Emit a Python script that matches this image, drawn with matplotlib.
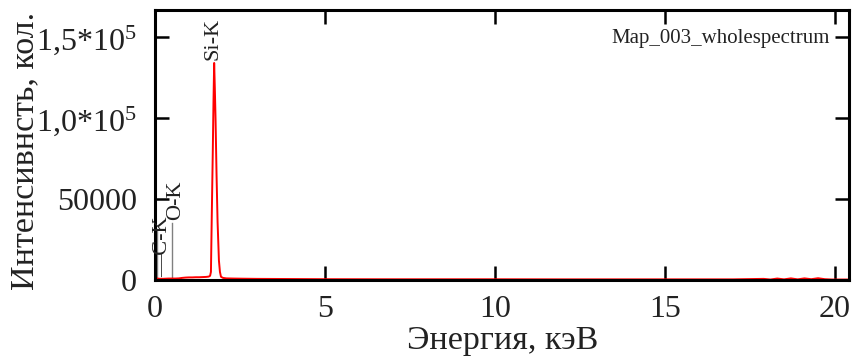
import matplotlib
matplotlib.use("Agg")
import matplotlib.pyplot as plt
from matplotlib.ticker import FixedLocator, FixedFormatter

plt.rcParams['font.family'] = ['Liberation Serif', 'DejaVu Serif']
plt.rcParams['mathtext.fontset'] = 'custom'
plt.rcParams['mathtext.rm'] = 'Liberation Serif'
plt.rcParams['mathtext.it'] = 'Liberation Serif:italic'

# Spectrum data (energy keV, counts)
energy = [0.00, 0.05, 0.10, 0.20, 0.30, 0.40, 0.50, 0.60, 0.70, 0.80, 0.90, 1.00,
          1.10, 1.20, 1.30, 1.40, 1.50, 1.58, 1.62, 1.645, 1.67, 1.70, 1.72, 1.74,
          1.76, 1.78, 1.81, 1.84, 1.88, 1.91, 1.94, 2.00, 2.10, 2.30, 2.60, 3.00,
          4.00, 5.00, 7.00, 10.00, 12.00, 15.00, 17.00, 17.90, 18.10, 18.30, 18.50,
          18.70, 18.90, 19.10, 19.30, 19.50, 19.70, 19.90, 20.40]
counts = [1500, 1000, 800, 700, 800, 900, 900, 900, 1000, 1300, 1500, 1600,
          1600, 1700, 1700, 1800, 1900, 2100, 2600, 5000, 40000, 80000, 110000, 134000,
          118000, 100000, 65000, 36000, 12000, 5000, 2000, 1300, 1000, 900, 800, 700,
          600, 500, 450, 450, 400, 400, 400, 700, 300, 900, 400, 1000, 400, 1000,
          500, 1100, 500, 300, 300]

x_ticks = [0, 5, 10, 15, 20]
x_ticklabels = ['0', '5', '10', '15', '20']
y_ticks = [0, 50000, 100000, 150000]
y_ticklabels = ['0', '50000', r'1,0*10$^{5}$', r'1,5*10$^{5}$']

lines_energy = [0.06, 0.50]
lines_height = [30000, 35000]
peak_labels = ['\u2014C-K', 'O-K', 'Si-K']
peak_label_x = [0.22, 0.62, 1.72]
peak_label_y = [2000, 37000, 136000]

fig = plt.figure(figsize=(8.52, 3.6), dpi=100)
ax = fig.add_axes([155/852, 1-280/360, (849-155)/852, 270/360])

for e, h in zip(lines_energy, lines_height):
    ax.plot([e, e], [0, h], color='#808080', lw=1.0, zorder=1)

ax.plot(energy, counts, color='#ff0000', lw=1.4, zorder=2)

for lab, lx, ly in zip(peak_labels, peak_label_x, peak_label_y):
    ax.text(lx, ly, lab, rotation=90, ha='center', va='bottom', fontsize=16, color='#222222')

ax.set_xlim(0, 20.41)
ax.set_ylim(0, 166700)
ax.xaxis.set_major_locator(FixedLocator(x_ticks))
ax.xaxis.set_major_formatter(FixedFormatter(x_ticklabels))
ax.yaxis.set_major_locator(FixedLocator(y_ticks))
ax.yaxis.set_major_formatter(FixedFormatter(y_ticklabels))

ax.tick_params(direction='in', length=10, width=1.8, top=True, right=True,
               labelsize=23, color='black', labelcolor='#222222')
ax.tick_params(axis='x', pad=11)
ax.tick_params(axis='y', pad=13)
for s in ax.spines.values():
    s.set_linewidth(2.2)

ax.set_xlabel('Энергия, кэВ', fontsize=24.5, color='#222222')
ax.set_ylabel('Интенсивнсть, кол.', fontsize=24.5, color='#222222')
ax.xaxis.set_label_coords(0.501, -0.226)
ax.xaxis.label.set_va('center')
ax.yaxis.set_label_coords(-0.187, 0.478)
ax.yaxis.label.set_va('center')

ax.text(0.9726, 0.893, 'Map_003_wholespectrum', transform=ax.transAxes,
        ha='right', va='center', fontsize=15, color='#222222')

fig.savefig('out.png', dpi=100)
